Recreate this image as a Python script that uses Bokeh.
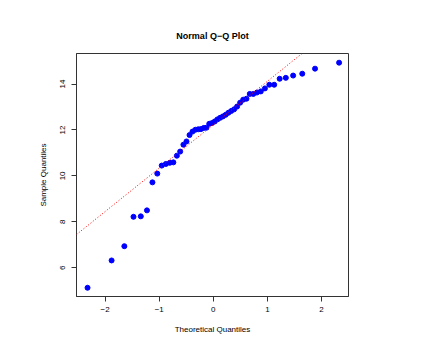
from bokeh.plotting import figure
from bokeh.embed import file_html
from bokeh.resources import INLINE
from bokeh.models import FixedTicker, Range1d, Slope

# Theoretical quantiles (n = 50)
theoretical = [-2.326, -1.881, -1.645, -1.476, -1.341, -1.227, -1.126, -1.036, -0.954, -0.878,
               -0.806, -0.739, -0.674, -0.613, -0.553, -0.496, -0.440, -0.385, -0.332, -0.279,
               -0.228, -0.176, -0.126, -0.075, -0.025, 0.025, 0.075, 0.126, 0.176, 0.228,
               0.279, 0.332, 0.385, 0.440, 0.496, 0.553, 0.613, 0.674, 0.739, 0.806,
               0.878, 0.954, 1.036, 1.126, 1.227, 1.341, 1.476, 1.645, 1.881, 2.326]
# Sample quantiles
sample = [5.13, 6.32, 6.94, 8.22, 8.24, 8.50, 9.72, 10.10, 10.45, 10.52,
          10.57, 10.59, 10.88, 11.06, 11.36, 11.50, 11.78, 11.93, 12.01, 12.03,
          12.04, 12.09, 12.10, 12.27, 12.30, 12.37, 12.46, 12.53, 12.59, 12.66,
          12.75, 12.83, 12.90, 13.02, 13.19, 13.32, 13.36, 13.57, 13.57, 13.63,
          13.68, 13.81, 13.97, 13.97, 14.23, 14.27, 14.37, 14.45, 14.67, 14.93]
# Reference line (qqline)
line_intercept = 12.23
line_slope = 1.89

x_ticks = [-2, -1, 0, 1, 2]
y_ticks = [6, 8, 10, 12, 14]
x_tick_labels = {-2: "\u22122", -1: "\u22121", 0: "0", 1: "1", 2: "2"}
y_tick_labels = {6: "6", 8: "8", 10: "10", 12: "12", 14: "14"}

FONT = "Liberation Sans"

p = figure(width=439, height=356, output_backend="svg", toolbar_location=None,
           x_range=Range1d(-2.53, 2.50), y_range=Range1d(4.75, 15.33),
           min_border_left=76, min_border_right=91, min_border_top=53, min_border_bottom=60,
           title="Normal Q\u2212Q Plot")

p.title.align = "center"
p.title.text_font = FONT
p.title.text_font_size = "9px"
p.title.text_font_style = "bold"
p.title.text_color = "#000000"
p.title.offset = 0
p.title.standoff = 26

p.xgrid.visible = False
p.ygrid.visible = False
p.background_fill_color = "white"
p.border_fill_color = "white"
p.outline_line_color = "#333333"
p.outline_line_width = 1

p.xaxis.ticker = FixedTicker(ticks=x_ticks)
p.yaxis.ticker = FixedTicker(ticks=y_ticks)
p.xaxis.major_label_overrides = x_tick_labels
p.yaxis.major_label_overrides = y_tick_labels
p.yaxis.major_label_orientation = "vertical"

for ax in (p.xaxis, p.yaxis):
    ax.axis_line_color = "#333333"
    ax.major_tick_line_color = "#333333"
    ax.major_tick_out = 5
    ax.major_tick_in = 0
    ax.minor_tick_line_color = None
    ax.major_label_text_font = FONT
    ax.major_label_text_font_size = "8px"
    ax.major_label_text_color = "#000000"
    ax.axis_label_text_font = FONT
    ax.axis_label_text_font_size = "8px"
    ax.axis_label_text_font_style = "normal"
    ax.axis_label_text_color = "#000000"

p.xaxis.axis_label = "Theoretical Quantiles"
p.yaxis.axis_label = "Sample Quantiles"
p.xaxis.major_label_standoff = 5
p.yaxis.major_label_standoff = 6
p.xaxis.axis_label_standoff = 10
p.yaxis.axis_label_standoff = 10

p.add_layout(Slope(gradient=line_slope, y_intercept=line_intercept,
                   line_color="red", line_dash="1 2", line_width=1))

p.scatter(theoretical, sample, size=5, color="blue", line_color="blue")

open("out.html", "w").write(file_html(p, INLINE))
